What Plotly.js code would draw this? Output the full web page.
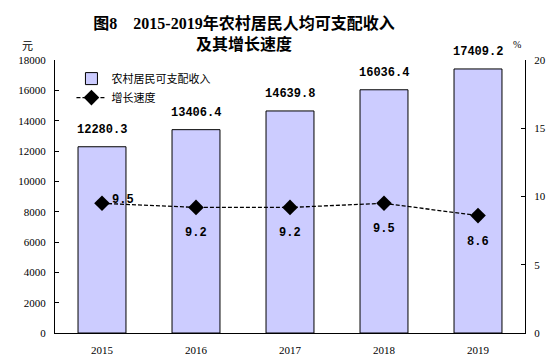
<!DOCTYPE html>
<html><head><meta charset="utf-8">
<script src="https://cdn.plot.ly/plotly-3.0.1.min.js"></script>
<style>body{margin:0;background:#fff}#c{width:552px;height:360px}</style>
</head><body><div id="c"></div>
<script>
const years = ['2015','2016','2017','2018','2019'];
const income = [12280.3, 13406.4, 14639.8, 16036.4, 17409.2];
const growth = [9.5, 9.2, 9.2, 9.5, 8.6];
const incomeName = '农村居民可支配收入';
const growthName = '增长速度';
const leftTicks = [0,2000,4000,6000,8000,10000,12000,14000,16000,18000];
const rightTicks = [0,5,10,15,20];

const serif = 'Liberation Serif, Noto Sans CJK SC, serif';
const mono = 'Liberation Mono, Noto Sans CJK SC, monospace';
const cjk = 'Noto Sans CJK SC, sans-serif';

const ann = [];
income.forEach((v,i)=>ann.push({x:i, y:v, xref:'x', yref:'y', text:'<b>'+v.toFixed(1)+'</b>', showarrow:false, yanchor:'bottom', yshift:8, font:{family:mono, size:12, color:'#000'}}));
growth.forEach((v,i)=>{
  if(i===0) ann.push({x:i, y:v, xref:'x', yref:'y2', text:'<b>'+v.toFixed(1)+'</b>', showarrow:false, xanchor:'left', yanchor:'middle', xshift:8, yshift:3, font:{family:mono, size:12, color:'#000'}});
  else ann.push({x:i, y:v, xref:'x', yref:'y2', text:'<b>'+v.toFixed(1)+'</b>', showarrow:false, yanchor:'top', yshift:-17, font:{family:mono, size:12, color:'#000'}});
});
ann.push({xref:'paper', yref:'paper', x:-0.074, y:1.09, text:'元', showarrow:false, font:{family:cjk, size:11, color:'#000'}});
ann.push({xref:'paper', yref:'paper', x:0.995, y:1.085, text:'%', showarrow:false, font:{family:serif, size:10, color:'#000'}});

const data = [
  {type:'bar', x:years, y:income, name:incomeName, width:0.51,
   marker:{color:'#ccccff', line:{color:'#000', width:1}}, hoverinfo:'skip'},
  {type:'scatter', mode:'lines+markers', x:years, y:growth, yaxis:'y2', name:growthName,
   line:{color:'#000', width:1.3, dash:'4px,2px'}, marker:{symbol:'diamond', size:12, color:'#000'}, hoverinfo:'skip'}
];
const layout = {
  width:552, height:360, margin:{l:55, r:27, t:60, b:27},
  paper_bgcolor:'#fff', plot_bgcolor:'#fff', showlegend:true,
  title:{text:'<b>图8　2015-2019年农村居民人均可支配收入<br>及其增长速度</b>', x:0.442, xanchor:'center', y:0.92, yanchor:'middle',
         font:{family:serif, size:16, color:'#000'}},
  legend:{x:0.035, y:0.985, xanchor:'left', yanchor:'top', bgcolor:'rgba(0,0,0,0)', font:{family:cjk, size:11, color:'#000'}, tracegroupgap:2, itemwidth:30},
  xaxis:{type:'category', range:[-0.5,4.5], showline:true, linecolor:'#000', linewidth:1, ticks:'', showgrid:false, zeroline:false,
         tickfont:{family:serif, size:11, color:'#000'}, ticklabelstandoff:7},
  yaxis:{range:[0,18000], tickvals:leftTicks, ticktext:leftTicks.map(String), showline:true, linecolor:'#000', linewidth:1, ticks:'inside', ticklen:4, tickcolor:'#000',
         showgrid:false, zeroline:false, tickfont:{family:serif, size:11, color:'#000'}, ticklabelstandoff:6},
  yaxis2:{range:[0,20], tickvals:rightTicks, ticktext:rightTicks.map(String), overlaying:'y', side:'right', showline:true, linecolor:'#000', linewidth:1, ticks:'inside', ticklen:4,
          tickcolor:'#000', showgrid:false, zeroline:false, tickfont:{family:serif, size:11, color:'#000'}, ticklabelstandoff:6},
  annotations:ann
};
Plotly.newPlot('c', data, layout, {staticPlot:true});
</script></body></html>
